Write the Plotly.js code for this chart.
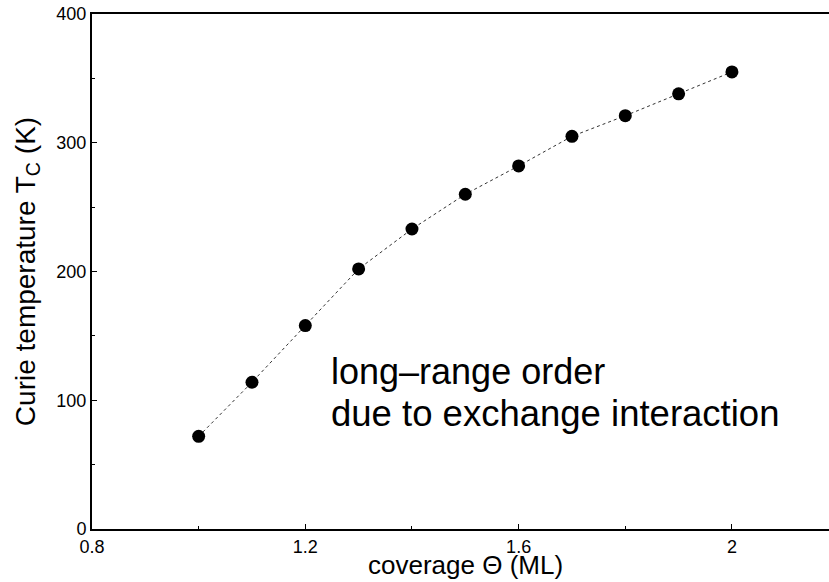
<!DOCTYPE html>
<html>
<head>
<meta charset="utf-8">
<script src="https://cdn.plot.ly/plotly-3.0.1.min.js"></script>
<style>
  html, body { margin: 0; padding: 0; background: #fff; overflow: hidden; }
  #chart { width: 829px; height: 582px; }
</style>
</head>
<body>
<div id="chart"></div>
<script>
// Coverage in monolayers and the Curie temperature measured at each coverage
const coverage = [1.0, 1.1, 1.2, 1.3, 1.4, 1.5, 1.6, 1.7, 1.8, 1.9, 2.0];
const curieT   = [72, 114, 158, 202, 233, 260, 282, 305, 321, 338, 355];

const xTickVals = [0.8, 1.2, 1.6, 2.0];
const xTickText = ['0.8', '1.2', '1.6', '2'];
const yTickVals = [0, 100, 200, 300, 400];

const FONT = 'Liberation Sans, Arial, Helvetica, sans-serif';

const trace = {
  x: coverage,
  y: curieT,
  type: 'scatter',
  mode: 'lines+markers',
  line: { color: '#333', width: 1, dash: 'dot' },
  marker: { color: '#000', size: 13 },
  hoverinfo: 'skip'
};

const layout = {
  width: 829,
  height: 582,
  margin: { l: 92, r: 0, t: 14, b: 53 },
  paper_bgcolor: '#fff',
  plot_bgcolor: '#fff',
  showlegend: false,
  font: { family: FONT, color: '#000', size: 18 },
  xaxis: {
    range: [0.8, 2.182],
    tickvals: xTickVals,
    ticktext: xTickText,
    ticks: 'inside',
    ticklen: 5,
    tickwidth: 1,
    tickcolor: '#000',
    minor: { dtick: 0.2, tick0: 0.8, ticks: 'inside', ticklen: 3, tickcolor: '#000', showgrid: false },
    showline: true,
    linecolor: '#000',
    linewidth: 2,
    mirror: true,
    showgrid: false,
    zeroline: false,
    tickfont: { family: FONT, size: 18, color: '#000' }
  },
  yaxis: {
    range: [0, 400],
    tickvals: yTickVals,
    ticks: 'inside',
    ticklen: 5,
    tickwidth: 1,
    tickcolor: '#000',
    minor: { dtick: 50, tick0: 0, ticks: 'inside', ticklen: 3, tickcolor: '#000', showgrid: false },
    showline: true,
    linecolor: '#000',
    linewidth: 2,
    showgrid: false,
    zeroline: false,
    tickfont: { family: FONT, size: 18, color: '#000' },
    title: {
      text: 'Curie temperature T<sub>C</sub> (K)',
      font: { family: FONT, size: 28, color: '#000' },
      standoff: 13
    }
  },
  annotations: [
    {
      text: 'coverage \u0398 (ML)',
      xref: 'x', yref: 'paper',
      x: 1.5, y: -0.07,
      xanchor: 'center', yanchor: 'middle',
      showarrow: false,
      font: { family: FONT, size: 26, color: '#000' }
    },
    {
      text: 'long\u2013range order',
      xref: 'x', yref: 'y',
      x: 1.245, y: 122,
      xanchor: 'left', yanchor: 'middle',
      showarrow: false,
      font: { family: FONT, size: 36, color: '#000' }
    },
    {
      text: 'due to exchange interaction',
      xref: 'x', yref: 'y',
      x: 1.245, y: 90,
      xanchor: 'left', yanchor: 'middle',
      showarrow: false,
      font: { family: FONT, size: 36.5, color: '#000' }
    }
  ]
};

Plotly.newPlot('chart', [trace], layout, { displayModeBar: false, staticPlot: true });
</script>
</body>
</html>
